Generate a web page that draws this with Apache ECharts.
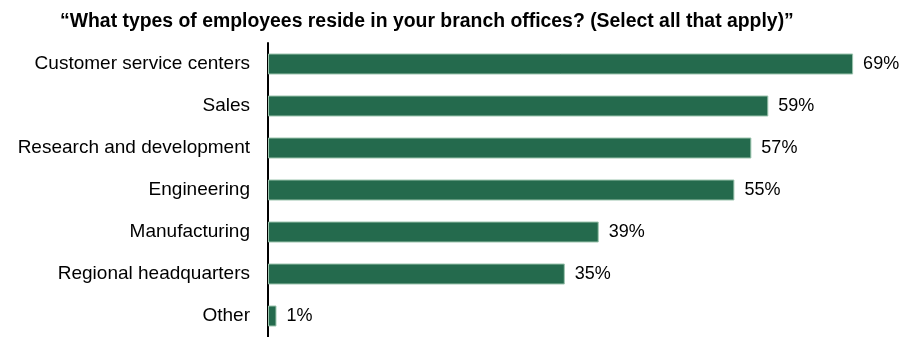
<!DOCTYPE html>
<html>
<head>
<meta charset="utf-8">
<script src="https://cdn.jsdelivr.net/npm/echarts@6/dist/echarts.min.js"></script>
<style>
  html, body { margin: 0; padding: 0; background: #fff; }
  #chart { width: 904px; height: 337px; }
</style>
</head>
<body>
<div id="chart"></div>
<script>
var titleText = '\u201cWhat types of employees reside in your branch offices? (Select all that apply)\u201d';
var categories = ['Customer service centers', 'Sales', 'Research and development', 'Engineering', 'Manufacturing', 'Regional headquarters', 'Other'];
var values = [69, 59, 57, 55, 39, 35, 1];

var myChart = echarts.init(document.getElementById('chart'));
myChart.setOption({
    animation: false,
    title: {
        text: titleText,
        left: 60,
        top: 12,
        padding: 0,
        textStyle: { fontFamily: 'Liberation Sans', fontSize: 19.4, fontWeight: 'bold', color: '#000' }
    },
    grid: { left: 268, top: 43, right: 42.4, height: 298.5, containLabel: false },
    xAxis: {
        type: 'value',
        min: 0,
        max: 70,
        show: false
    },
    yAxis: {
        type: 'category',
        inverse: true,
        data: categories,
        axisLine: { show: true, lineStyle: { color: '#000', width: 2 } },
        axisTick: { show: false },
        axisLabel: { color: '#000', fontSize: 19, fontFamily: 'Liberation Sans', margin: 18, padding: [5, 0, 0, 0] }
    },
    series: [
        {
            type: 'bar',
            data: values,
            barWidth: 21,
            itemStyle: { color: '#246A4D', borderColor: '#9cc4ae', borderWidth: 1 },
            label: {
                show: true,
                position: 'right',
                distance: 10,
                formatter: '{c}%',
                color: '#000',
                fontSize: 18,
                fontFamily: 'Liberation Sans',
                padding: [4, 0, 0, 0]
            }
        }
    ]
});
</script>
</body>
</html>
